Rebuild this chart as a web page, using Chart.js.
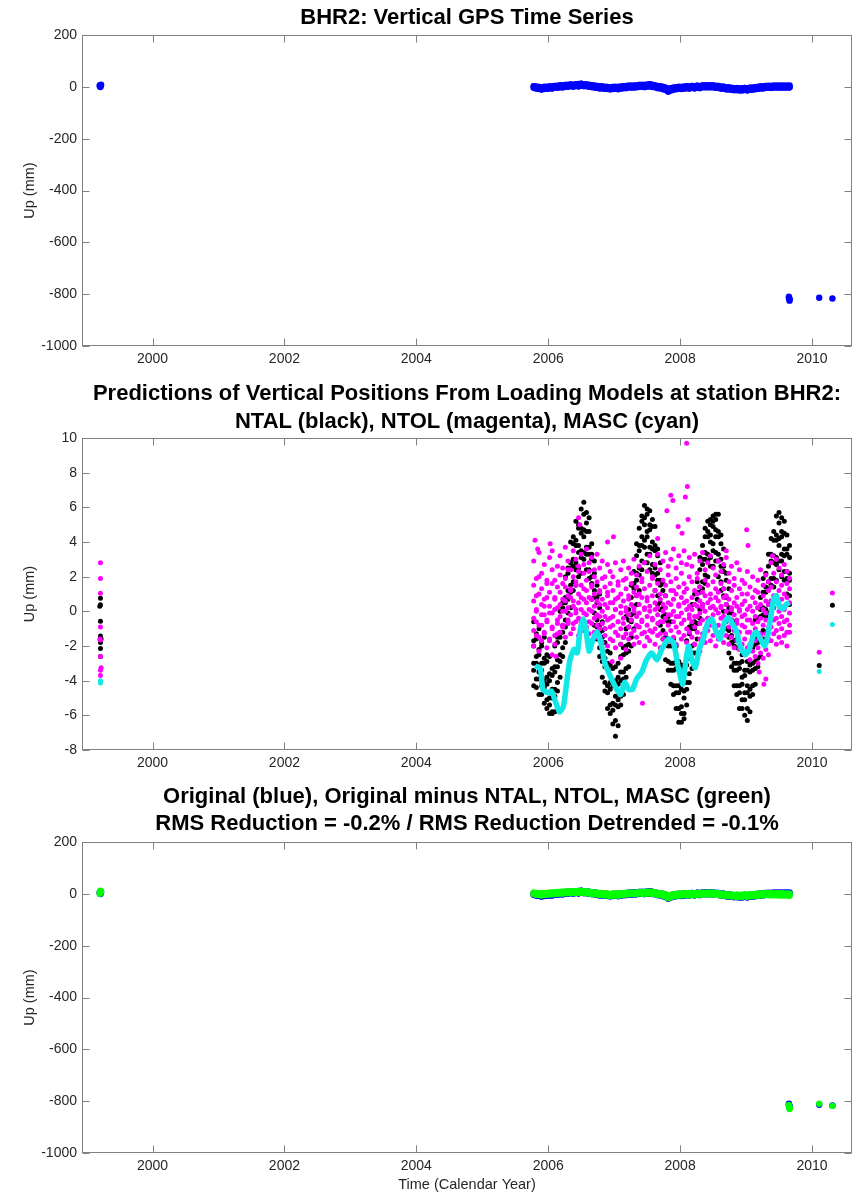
<!DOCTYPE html>
<html>
<head>
<meta charset="utf-8">
<script src="https://cdn.jsdelivr.net/npm/chart.js@4.4.1/dist/chart.umd.min.js"></script>
<style>
body { margin: 0; background: #fff; }
#page { position: relative; width: 860px; height: 1192px; font-family: "Liberation Sans", Arial, sans-serif; }
canvas { position: absolute; left: 0; }
.ttl { position: absolute; left: 67px; width: 800px; text-align: center; font-weight: bold; font-size: 22px; color: #000; white-space: nowrap; }
</style>
</head>
<body>
<div id="page">
  <canvas id="c1" width="860" height="372" style="top:0px"></canvas>
  <canvas id="c2" width="860" height="400" style="top:372px"></canvas>
  <canvas id="c3" width="860" height="420" style="top:772px"></canvas>
  <div class="ttl" style="top:3px;line-height:28px">BHR2: Vertical GPS Time Series</div>
  <div class="ttl" style="top:379px;line-height:28.4px">Predictions of Vertical Positions From Loading Models at station BHR2:<br>NTAL (black), NTOL (magenta), MASC (cyan)</div>
  <div class="ttl" style="top:783px;line-height:26.6px">Original (blue), Original minus NTAL, NTOL, MASC (green)<br>RMS Reduction = -0.2% / RMS Reduction Detrended = -0.1%</div>
</div>
<script>
// x axis (calendar year)
const xTicks = [2000, 2002, 2004, 2006, 2008, 2010];
const yTicksBig = [200, 0, -200, -400, -600, -800, -1000];
const yTicksSmall = [10, 8, 6, 4, 2, 0, -2, -4, -6, -8];

// sample epochs of the main 2005.8 - 2009.7 segment
const years = [2005.78, 2005.82, 2005.86, 2005.90, 2005.94, 2005.98, 2006.02, 2006.06, 2006.10, 2006.14,
  2006.18, 2006.22, 2006.26, 2006.30, 2006.34, 2006.38, 2006.42, 2006.46, 2006.50, 2006.54,
  2006.58, 2006.62, 2006.66, 2006.70, 2006.74, 2006.78, 2006.82, 2006.86, 2006.90, 2006.94,
  2006.98, 2007.02, 2007.06, 2007.10, 2007.14, 2007.18, 2007.22, 2007.26, 2007.30, 2007.34,
  2007.38, 2007.42, 2007.46, 2007.50, 2007.54, 2007.58, 2007.62, 2007.66, 2007.70, 2007.74,
  2007.78, 2007.82, 2007.86, 2007.90, 2007.94, 2007.98, 2008.02, 2008.06, 2008.10, 2008.14,
  2008.18, 2008.22, 2008.26, 2008.30, 2008.34, 2008.38, 2008.42, 2008.46, 2008.50, 2008.54,
  2008.58, 2008.62, 2008.66, 2008.70, 2008.74, 2008.78, 2008.82, 2008.86, 2008.90, 2008.94,
  2008.98, 2009.02, 2009.06, 2009.10, 2009.14, 2009.18, 2009.22, 2009.26, 2009.30, 2009.34,
  2009.38, 2009.42, 2009.46, 2009.50, 2009.54, 2009.58, 2009.62, 2009.66];

// GPS vertical (mm): upper edge, lower edge, ragged edge samples
const gpsA = [2, 1, -1, -2, -1, 0, 1, 2, 3, 4, 5, 6, 7, 8, 9, 8, 10, 11, 12, 10,
  9, 8, 6, 5, 3, 2, 1, 0, -1, -2, -1, 0, -1, 1, 2, 3, 4, 5, 4, 6,
  7, 8, 7, 9, 10, 8, 5, 3, 2, 0, -4, -8, -6, -3, -2, 0, -1, 1, 2, 1,
  3, 2, 4, 3, 5, 6, 5, 6, 5, 4, 3, 1, 0, -2, -3, -4, -6, -5, -7, -6,
  -5, -6, -4, -3, -2, 0, 1, 2, 3, 4, 3, 5, 4, 5, 4, 5, 4, 5];
const gpsB = [-4, -6, -8, -9, -8, -7, -6, -5, -3, -3, -2, -1, 0, 1, 2, 1, 3, 2, 4, 3,
  2, 1, -1, -2, -4, -5, -6, -7, -8, -9, -8, -7, -9, -6, -5, -4, -3, -2, -3, -1,
  0, 1, -1, 2, 1, 0, -2, -4, -6, -8, -12, -18, -14, -10, -9, -7, -8, -6, -5, -6,
  -4, -5, -3, -4, -2, -1, -2, -1, -2, -3, -4, -6, -7, -9, -10, -11, -13, -12, -14, -13,
  -12, -13, -11, -10, -9, -7, -6, -5, -4, -3, -4, -2, -3, -2, -3, -2, -3, -2];
const gpsC = [4, -8, 1, -12, 2, -9, 3, -8, 5, -5, 8, -4, 9, -1, 11, -1, 12, 0, 14, 1,
  11, -1, 8, -4, 5, -7, 3, -9, 1, -11, 1, -9, 1, -8, 4, -6, 6, -4, 6, -3,
  9, -1, 9, 0, 12, -2, 7, -6, 4, -10, -2, -20, -4, -12, 0, -9, 1, -8, 4, -8,
  5, -7, 6, -6, 7, -3, 7, -3, 7, -5, 5, -8, 2, -11, -1, -13, -4, -14, -5, -15,
  -3, -15, -2, -12, 0, -9, 3, -7, 5, -5, 5, -4, 6, -4, 6, -4, 6, -4];
const gpsOutT = [1999.20, 1999.20, 1999.21, 1999.21, 1999.22, 2009.65, 2009.65, 2009.66, 2009.66, 2009.66, 2010.11, 2010.31];
const gpsOutV = [2, 6, -1, 4, 8, -810, -815, -820, -825, -818, -814, -817];

// original minus NTAL, NTOL, MASC (mm)
const resA = [4, 3, 2, 1, 2, 3, 4, 5, 6, 7, 7, 8, 8, 9, 10, 9, 10, 11, 11, 10,
  9, 8, 6, 5, 4, 3, 2, 1, 0, -1, 0, 1, 0, 2, 2, 3, 4, 4, 3, 5,
  6, 7, 6, 8, 8, 7, 5, 3, 2, 0, -3, -7, -5, -2, -1, 1, 0, 1, 2, 1,
  2, 2, 3, 2, 4, 4, 4, 5, 4, 3, 2, 0, -1, -2, -3, -4, -5, -4, -5, -4,
  -3, -4, -3, -2, -1, 0, 1, 1, 2, 2, 1, 2, 1, 2, 1, 1, 0, 1];
const resB = [-1, -3, -4, -5, -4, -3, -2, -1, 0, 0, 1, 2, 2, 3, 4, 3, 4, 4, 5, 4,
  3, 2, 0, -1, -2, -3, -4, -5, -6, -7, -6, -5, -7, -4, -3, -2, -1, 0, -1, 1,
  1, 2, 0, 2, 2, 1, -1, -3, -4, -6, -10, -16, -12, -8, -7, -5, -6, -4, -4, -5,
  -3, -4, -2, -3, -2, -1, -2, -1, -2, -3, -4, -5, -6, -7, -8, -9, -10, -10, -11, -10,
  -9, -10, -9, -8, -7, -6, -5, -5, -4, -4, -5, -4, -5, -5, -6, -5, -6, -6];
const resC = [6, -5, 4, -7, 4, -5, 6, -3, 8, -2, 9, 0, 10, 1, 12, 1, 12, 2, 13, 2,
  11, 0, 8, -3, 6, -5, 4, -7, 2, -9, 2, -7, 2, -6, 4, -4, 6, -2, 5, -1,
  8, 0, 8, 0, 10, -1, 7, -5, 4, -8, -1, -18, -3, -10, 1, -7, 2, -6, 4, -7,
  4, -6, 5, -5, 6, -3, 6, -3, 6, -5, 4, -7, 1, -9, -1, -11, -3, -12, -3, -12,
  -1, -12, -1, -10, 1, -8, 3, -7, 4, -6, 3, -6, 3, -7, 3, -7, 2, -8];
const resOutT = [1999.20, 1999.20, 1999.21, 1999.21, 1999.22, 2009.65, 2009.65, 2009.66, 2009.66, 2009.66, 2010.11, 2010.31];
const resOutV = [0, 5, 10, 12, 8, -815, -820, -826, -830, -822, -810, -818];

// NTAL (black), six samples per epoch (mm)
const bk1 = [-0.6, -1.3, -1.0, -1.8, -1.5, -2.5, -2.6, -3.3, -2.0, -1.5, 0.0, 0.5, 2.0, 2.5, 4.0, 4.3, 5.2, 5.0, 5.9, 6.3,
  5.7, 5.4, 3.9, 2.9, 1.5, 1.0, -0.6, -1.0, -2.3, -2.4, -3.3, -3.2, -3.0, -1.9, -1.5, -0.3, 0.1, 1.5, 2.3, 3.9,
  4.8, 5.5, 6.1, 5.9, 5.8, 5.3, 4.9, 3.6, 2.8, 1.6, 0.9, -0.3, -0.6, -1.6, -2.0, -2.9, -3.1, -3.3, -1.7, -0.9,
  0.4, 1.0, 1.7, 3.1, 3.8, 4.8, 5.2, 5.0, 5.5, 5.3, 5.6, 4.4, 3.6, 2.2, 1.3, -0.1, -0.6, -1.6, -2.0, -2.5,
  -2.4, -2.9, -2.1, -1.6, -0.5, 0.2, 0.8, 1.9, 2.2, 3.3, 4.2, 4.6, 5.5, 5.7, 5.4, 5.2, 4.4, 3.8];
const bk2 = [-1.7, -1.6, -2.2, -2.0, -2.7, -2.9, -3.6, -3.7, -3.2, -1.8, -1.2, 0.2, 0.8, 2.2, 2.8, 3.9, 4.1, 4.8, 4.8, 5.6,
  5.1, 4.6, 3.3, 2.2, 0.8, 0.2, -1.1, -1.8, -3.0, -3.1, -4.0, -4.0, -3.8, -2.6, -2.1, -1.0, -0.5, 0.8, 1.6, 3.2,
  3.8, 5.2, 5.4, 5.6, 5.0, 4.9, 3.8, 3.2, 1.8, 1.2, -0.2, -0.6, -1.7, -2.0, -2.9, -3.4, -4.1, -3.6, -2.7, -1.3,
  -0.7, 0.4, 1.1, 2.4, 3.0, 4.3, 4.6, 5.3, 5.2, 5.6, 4.6, 3.9, 2.6, 1.8, 0.2, -0.5, -1.7, -2.1, -3.0, -2.9,
  -3.4, -3.4, -3.1, -2.1, -1.6, -0.4, 0.1, 1.1, 1.4, 2.6, 3.3, 4.1, 4.4, 5.1, 4.6, 4.5, 3.6, 3.1];
const bk3 = [-2.0, -2.6, -2.5, -3.0, -3.0, -3.8, -4.0, -4.5, -3.5, -2.8, -1.5, -0.8, 0.5, 1.2, 2.5, 3.0, 3.8, 3.8, 4.5, 4.7,
  4.6, 3.7, 3.0, 1.2, 0.5, -0.8, -1.5, -2.7, -3.3, -4.1, -4.3, -4.9, -4.2, -3.5, -2.5, -2.0, -0.9, -0.2, 1.3, 2.2,
  3.5, 4.3, 5.0, 4.6, 4.7, 4.0, 3.5, 2.2, 1.5, 0.2, -0.5, -1.6, -2.0, -3.0, -3.3, -4.3, -4.5, -4.6, -3.1, -2.3,
  -1.0, -0.6, 0.7, 1.4, 2.7, 3.4, 4.3, 4.4, 4.9, 4.7, 4.3, 3.0, 2.3, 0.8, -0.1, -1.4, -2.0, -3.0, -3.3, -3.8,
  -3.7, -4.3, -3.5, -3.0, -1.9, -1.4, -0.3, 0.2, 1.1, 1.7, 2.9, 3.2, 4.1, 4.2, 4.3, 3.6, 3.3, 2.2];
const bk4 = [-3.0, -3.0, -3.5, -3.4, -4.0, -4.2, -5.0, -5.0, -4.5, -3.2, -2.5, -1.2, -0.5, 0.7, 1.5, 2.6, 2.8, 3.4, 3.5, 4.3,
  3.7, 3.3, 2.0, 0.8, -0.5, -1.2, -2.5, -3.2, -4.3, -4.5, -5.3, -5.4, -5.1, -4.0, -3.5, -2.4, -1.9, -0.6, 0.3, 1.8,
  2.5, 3.8, 4.1, 4.3, 3.7, 3.6, 2.5, 1.8, 0.5, -0.3, -1.5, -2.0, -3.0, -3.4, -4.3, -4.7, -5.5, -5.0, -4.1, -2.7,
  -2.0, -1.0, -0.3, 1.1, 1.7, 3.0, 3.3, 4.0, 3.9, 4.3, 3.3, 2.6, 1.3, 0.4, -1.1, -1.8, -3.0, -3.4, -4.3, -4.2,
  -4.7, -4.7, -4.5, -3.4, -2.9, -1.8, -1.3, -0.2, 0.1, 1.3, 1.9, 2.8, 3.1, 3.8, 3.3, 3.2, 2.3, 1.8];
const bk5 = [-3.4, -3.9, -3.9, -4.3, -4.4, -5.1, -5.4, -5.9, -4.9, -4.1, -2.9, -2.1, -0.9, -0.1, 1.1, 1.7, 2.4, 2.5, 3.1, 3.4,
  3.3, 2.4, 1.6, -0.1, -0.9, -2.1, -2.9, -4.1, -4.7, -5.4, -5.7, -6.3, -5.5, -4.9, -3.9, -3.3, -2.3, -1.5, -0.1, 0.9,
  2.1, 2.9, 3.7, 3.3, 3.3, 2.7, 2.1, 0.9, 0.1, -1.1, -1.9, -2.9, -3.4, -4.3, -4.7, -5.6, -5.9, -5.9, -4.5, -3.6,
  -2.4, -1.9, -0.7, 0.1, 1.3, 2.1, 2.9, 3.1, 3.5, 3.4, 2.9, 1.7, 0.9, -0.5, -1.5, -2.7, -3.4, -4.3, -4.7, -5.1,
  -5.1, -5.6, -4.9, -4.3, -3.3, -2.7, -1.7, -1.1, -0.3, 0.4, 1.5, 1.9, 2.7, 2.9, 2.9, 2.3, 1.9, 0.9];
const bk6 = [-4.3, -4.4, -4.8, -4.8, -5.3, -5.6, -5.9, -5.8, -5.8, -4.6, -3.8, -2.6, -1.8, -0.6, 0.2, 1.2, 1.5, 2.0, 2.2, 3.0,
  2.4, 1.9, 0.7, -0.8, -1.6, -2.6, -3.8, -4.6, -5.6, -5.9, -6.5, -7.2, -6.6, -5.4, -4.8, -3.8, -3.2, -2.0, -1.0, 0.4,
  1.2, 2.4, 2.8, 2.8, 2.4, 2.2, 1.2, 0.4, -0.8, -1.6, -2.8, -3.4, -4.2, -4.8, -5.6, -6.4, -6.4, -6.2, -5.4, -4.1,
  -3.3, -2.4, -1.6, -0.4, 0.4, 1.6, 2.0, 2.6, 2.6, 2.9, 2.0, 1.2, 0.0, -1.0, -2.4, -3.2, -4.3, -4.8, -5.6, -5.6,
  -6.0, -6.3, -5.8, -4.8, -4.2, -3.2, -2.6, -1.6, -1.2, -0.1, 0.6, 1.4, 1.8, 2.4, 2.0, 1.8, 1.0, 0.4];
const ntalOutT = [1999.21, 1999.21, 1999.20, 1999.21, 1999.21, 1999.22, 1999.21, 1999.21, 1999.21, 2010.11, 2010.31];
const ntalOutV = [0.75, 0.38, 0.30, -0.57, -1.43, -1.6, -1.8, -2.15, -2.6, -3.12, 0.35];

// NTOL (magenta), six samples per epoch (mm)
const mg1 = [2.9, 1.9, 3.4, 2.2, 2.7, 1.6, 3.1, 2.4, 1.8, 2.6, 3.2, 2.5, 3.7, 2.9, 2.4, 3.5, 3.0, 2.6, 3.3, 2.7,
  3.6, 2.8, 3.1, 2.4, 3.3, 2.5, 2.9, 2.0, 2.7, 2.3, 2.0, 2.8, 1.7, 2.4, 2.9, 1.9, 2.5, 2.2, 3.0, 2.1,
  2.6, 1.9, 2.8, 2.3, 3.2, 2.0, 2.7, 3.3, 2.4, 2.9, 3.4, 2.6, 3.0, 3.6, 2.5, 3.2, 2.8, 3.5, 2.7, 3.1,
  2.6, 3.3, 2.2, 2.9, 3.4, 2.4, 2.8, 3.2, 2.5, 2.1, 2.9, 2.3, 2.7, 3.1, 2.2, 2.6, 1.9, 2.8, 2.4, 1.8,
  1.6, 2.3, 1.4, 2.0, 1.2, 1.8, 2.4, 1.5, 2.1, 1.7, 2.8, 2.2, 3.0, 2.5, 2.1, 2.7, 2.3, 1.9];
const mg2 = [1.5, 0.9, 2.0, 1.3, 0.7, 1.8, 1.1, 1.6, 0.8, 1.4, 2.1, 1.6, 1.9, 2.4, 1.3, 2.0, 1.7, 2.3, 1.5, 2.2,
  1.8, 2.3, 1.5, 2.0, 1.7, 1.2, 1.9, 1.4, 1.1, 1.6, 1.2, 0.7, 1.5, 1.0, 1.8, 1.3, 0.9, 1.6, 1.1, 1.4,
  1.0, 1.7, 1.3, 0.8, 1.5, 1.9, 1.2, 1.6, 1.0, 1.8, 1.5, 2.1, 1.7, 1.2, 1.9, 1.4, 2.2, 1.6, 1.3, 2.0,
  1.7, 1.2, 1.9, 1.4, 1.1, 1.8, 1.5, 1.0, 1.7, 1.3, 1.1, 1.6, 1.3, 0.9, 1.7, 1.2, 1.5, 0.8, 1.3, 1.0,
  0.6, 1.0, 0.3, 0.8, 0.5, 1.1, 0.4, 0.9, 0.6, 1.2, 1.4, 0.9, 1.7, 1.2, 1.5, 1.0, 1.6, 1.3];
const mg3 = [0.6, 0.1, 1.0, 0.4, -0.2, 0.8, 0.3, -0.1, 0.7, 0.2, 1.1, 0.7, 1.4, 0.9, 1.2, 0.6, 1.5, 1.0, 0.8, 1.3,
  1.2, 0.8, 1.4, 1.0, 0.6, 1.1, 0.7, 0.4, 0.9, 0.5, 0.5, 0.1, 0.8, 0.3, 0.6, 0.0, 0.7, 0.4, 0.2, 0.9,
  0.4, 0.8, 0.1, 0.6, 0.3, 0.9, 0.5, 0.2, 0.7, 0.4, 0.9, 0.5, 1.2, 0.7, 1.0, 0.4, 0.8, 1.1, 0.6, 0.3,
  0.8, 0.4, 1.0, 0.6, 0.2, 0.9, 0.5, 0.7, 0.3, 0.8, 0.6, 0.2, 0.8, 0.4, 0.7, 0.1, 0.5, 0.3, 0.0, 0.4,
  -0.2, 0.1, -0.5, 0.0, -0.3, 0.2, -0.4, 0.1, -0.1, 0.4, 0.6, 0.2, 0.9, 0.4, 0.7, 0.3, 0.8, 0.5];
const mg4 = [-0.4, 0.0, -0.8, -0.2, 0.3, -0.6, -0.1, -0.9, 0.1, -0.5, 0.4, 0.0, 0.6, 0.2, 0.8, 0.3, -0.1, 0.5, 0.1, 0.7,
  0.5, 0.1, 0.7, 0.3, -0.2, 0.4, 0.0, -0.3, 0.2, -0.4, -0.3, 0.1, -0.6, -0.1, -0.4, 0.2, -0.2, -0.5, 0.0, -0.3,
  -0.1, -0.5, 0.2, -0.3, 0.0, -0.4, 0.1, -0.2, -0.6, 0.0, 0.2, -0.2, 0.4, 0.0, -0.3, 0.3, -0.1, 0.5, 0.1, -0.2,
  0.1, -0.3, 0.3, -0.1, 0.4, 0.0, -0.4, 0.2, -0.2, 0.1, -0.1, 0.3, -0.3, 0.0, -0.4, 0.2, -0.2, -0.5, 0.1, -0.3,
  -0.9, -0.5, -1.2, -0.7, -1.0, -0.6, -1.3, -0.8, -0.5, -0.9, -0.2, 0.2, -0.4, 0.0, -0.3, 0.1, -0.5, -0.1];
const mg5 = [-1.1, -0.6, -1.5, -0.8, -1.3, -0.5, -1.7, -1.0, -1.4, -0.7, -0.3, -0.8, 0.0, -0.5, -0.2, -0.7, 0.1, -0.4, -0.6, -0.1,
  -0.2, -0.6, 0.0, -0.4, -0.8, -0.3, -0.7, -1.0, -0.5, -0.9, -0.8, -1.2, -0.6, -1.0, -0.7, -1.3, -0.9, -0.5, -1.1, -0.8,
  -0.9, -0.6, -1.2, -0.8, -1.1, -0.5, -1.0, -0.7, -1.3, -0.6, -0.4, -0.8, -0.2, -0.6, -0.9, -0.3, -0.7, -0.5, -1.0, -0.4,
  -0.6, -0.9, -0.3, -0.7, -0.5, -1.0, -0.4, -0.8, -0.6, -0.9, -0.8, -0.4, -1.0, -0.6, -0.9, -0.5, -1.1, -0.7, -1.2, -0.8,
  -1.6, -1.2, -1.9, -1.4, -1.7, -2.1, -1.5, -1.8, -1.3, -1.6, -0.9, -0.5, -1.1, -0.7, -1.0, -0.6, -1.2, -0.8];
const mg6 = [-2.0, -1.4, -2.3, -1.7, -1.2, -2.1, -1.6, -2.5, -1.9, -1.3, -1.2, -0.9, -1.5, -0.7, -1.3, -1.0, -0.6, -1.4, -0.8, -1.1,
  -0.9, -1.3, -0.7, -1.2, -1.5, -1.0, -1.8, -1.4, -2.0, -1.6, -1.7, -2.1, -1.4, -1.9, -1.5, -2.2, -1.6, -1.3, -1.9, -1.5,
  -1.8, -1.3, -2.0, -1.5, -1.7, -1.2, -1.9, -1.4, -2.1, -1.6, -1.3, -1.7, -1.1, -1.5, -1.9, -1.2, -1.6, -1.4, -1.8, -1.2,
  -1.5, -1.9, -1.2, -1.6, -1.3, -1.8, -1.1, -1.7, -1.4, -2.0, -1.6, -1.2, -1.8, -1.4, -1.9, -1.5, -2.1, -1.7, -2.2, -1.9,
  -2.5, -2.1, -2.8, -2.3, -2.6, -3.0, -2.4, -2.7, -2.2, -2.5, -1.7, -1.3, -1.9, -1.5, -1.8, -1.4, -2.0, -1.2];
const ntolOutT = [1999.21, 1999.21, 1999.21, 1999.21, 1999.20, 1999.21, 1999.21, 1999.22, 1999.21, 1999.21, 2010.11, 2010.31,
  2005.80, 2005.84, 2006.03, 2006.06, 2006.12, 2006.46, 2006.48, 2006.90, 2006.97, 2006.99, 2007.10, 2007.43, 2007.66, 2007.80,
  2007.86, 2007.89, 2007.97, 2008.03, 2008.08, 2008.10, 2008.11, 2008.12, 2008.30, 2008.70, 2009.01, 2009.03, 2009.20,
  2009.27, 2009.30, 2009.40];
const ntolOutV = [2.8, 1.9, 1.05, -0.9, -1.6, -1.65, -2.6, -3.25, -3.4, -3.7, -2.36, 1.06,
  4.1, 3.6, 3.9, 3.5, -2.6, 5.4, 5.0, 4.0, -2.9, 4.3, -2.7, -5.3, 4.2, 5.8,
  6.7, 6.4, 4.9, 4.5, 6.6, 9.7, 7.2, 5.3, -2.3, 3.5, 4.7, 3.8, -3.5,
  -4.2, -3.9, 3.2];

// MASC (cyan) model curve (mm)
const mascT = [2005.80, 2005.88, 2005.92, 2006.00, 2006.05, 2006.10, 2006.17, 2006.23, 2006.28, 2006.33,
  2006.39, 2006.44, 2006.48, 2006.53, 2006.57, 2006.62, 2006.68, 2006.74, 2006.80, 2006.86,
  2006.96, 2007.04, 2007.10, 2007.16, 2007.22, 2007.28, 2007.34, 2007.42, 2007.49, 2007.57,
  2007.65, 2007.72, 2007.82, 2007.90, 2007.97, 2008.04, 2008.09, 2008.13, 2008.18, 2008.23,
  2008.29, 2008.35, 2008.42, 2008.48, 2008.55, 2008.61, 2008.67, 2008.73, 2008.80, 2008.86,
  2008.91, 2008.99, 2009.05, 2009.11, 2009.16, 2009.22, 2009.28, 2009.32, 2009.37, 2009.42,
  2009.46, 2009.51, 2009.56, 2009.61, 2009.66];
const mascV = [-3.15, -3.3, -4.5, -4.7, -4.6, -5.1, -5.8, -5.5, -4.1, -2.8,
  -2.2, -2.4, -1.2, -0.45, -1.0, -2.3, -1.6, -1.2, -1.8, -3.0,
  -3.9, -4.5, -4.8, -4.1, -4.5, -4.5, -3.9, -3.5, -2.8, -2.4,
  -2.8, -2.2, -1.6, -1.8, -3.2, -4.2, -2.8, -2.0, -2.8, -3.25,
  -2.2, -1.6, -0.65, -0.45, -1.2, -1.6, -0.65, -0.35, -0.75, -1.2,
  -2.0, -2.5, -2.2, -1.4, -1.2, -1.6, -2.0, -1.6, -0.45, 0.7,
  0.9, 0.25, 0.15, 0.4, 0.5];
const mascOutT = [1999.21, 1999.21, 2010.11, 2010.31];
const mascOutV = [-4.13, -4.0, -3.47, -0.76];

const X_MIN = 1998.93, X_MAX = 2010.607;
const FONT = '"Liberation Sans", Arial, sans-serif';
const TXT = '#262626';

function dots(ts, vs, color, r) {
    return {
        data: ts.map((t, i) => ({x: t, y: vs[i]})),
        backgroundColor: color,
        borderColor: color,
        pointRadius: r,
        pointHoverRadius: r,
        pointBorderWidth: 0,
        showLine: false
    };
}

// MATLAB style box with inward ticks
const boxTicks = {
    id: 'boxTicks',
    beforeDatasetsDraw(chart) {
        const {ctx, chartArea: a, scales} = chart;
        const L = Math.round(a.left) + 0.5, R = Math.round(a.right) - 0.5;
        const T = Math.round(a.top) + 0.5, B = Math.round(a.bottom) - 0.5;
        ctx.save();
        ctx.strokeStyle = '#808080';
        ctx.lineWidth = 1;
        ctx.beginPath();
        scales.x.ticks.forEach(t => {
            const px = Math.round(scales.x.getPixelForValue(t.value)) + 0.5;
            ctx.moveTo(px, B); ctx.lineTo(px, B - 7);
            ctx.moveTo(px, T); ctx.lineTo(px, T + 7);
        });
        scales.y.ticks.forEach(t => {
            const py = Math.round(scales.y.getPixelForValue(t.value)) + 0.5;
            ctx.moveTo(L, py); ctx.lineTo(L + 7, py);
            ctx.moveTo(R, py); ctx.lineTo(R - 7, py);
        });
        ctx.stroke();
        ctx.strokeRect(L, T, R - L, B - T);
        ctx.restore();
    }
};

function makeChart(id, datasets, yMin, yMax, yTicks, padTop, xHeight, xTitle) {
    const config = {
        type: 'scatter',
        data: {datasets: datasets},
        options: {
            responsive: false,
            animation: false,
            layout: {padding: {left: 18, right: 8, top: padTop, bottom: 0}},
            plugins: {legend: {display: false}, tooltip: {enabled: false}},
            scales: {
                x: {
                    type: 'linear', min: X_MIN, max: X_MAX,
                    afterBuildTicks: s => { s.ticks = xTicks.map(v => ({value: v})); },
                    afterFit: s => { s.height = xHeight; },
                    grid: {display: false, drawTicks: false},
                    border: {display: false},
                    ticks: {padding: 5, color: TXT, autoSkip: false, maxRotation: 0,
                        font: {family: FONT, size: 14}, callback: v => String(v)},
                    title: {display: !!xTitle, text: xTitle || '', color: TXT,
                        font: {family: FONT, size: 14.5, lineHeight: 1}, padding: {top: 0, bottom: 0}}
                },
                y: {
                    type: 'linear', min: yMin, max: yMax,
                    afterBuildTicks: s => { s.ticks = yTicks.map(v => ({value: v})); },
                    afterFit: s => { s.width = 64; },
                    grid: {display: false, drawTicks: false},
                    border: {display: false},
                    ticks: {padding: 5, color: TXT, autoSkip: false,
                        font: {family: FONT, size: 14}, callback: v => String(v)},
                    title: {display: true, text: 'Up (mm)', color: TXT,
                        font: {family: FONT, size: 14.5}, padding: {top: 3.5, bottom: 0}}
                }
            }
        },
        plugins: [boxTicks]
    };
    new Chart(document.getElementById(id).getContext('2d'), config);
}

const BLUE = '#0000ff', GREEN = '#00ff00', BLACK = '#000000', MAG = '#ff00ff', CYAN = '#10e8e8';

makeChart('c1', [
    dots(years, gpsA, BLUE, 3.3),
    dots(years, gpsB, BLUE, 3.3),
    dots(years, gpsC, BLUE, 2.8),
    dots(gpsOutT, gpsOutV, BLUE, 3.2)
], -1000, 200, yTicksBig, 35, 26, null);

makeChart('c2', [
    {data: mascT.map((t, i) => ({x: t, y: mascV[i]})), showLine: true, borderColor: CYAN,
        backgroundColor: CYAN, borderWidth: 5.5, pointRadius: 0, pointHoverRadius: 0, tension: 0.2},
    dots(mascOutT, mascOutV, CYAN, 2.5),
    dots(ntolOutT, ntolOutV, MAG, 2.5),
    dots(years, mg1, MAG, 2.5),
    dots(years, mg2, MAG, 2.5),
    dots(years, mg3, MAG, 2.5),
    dots(years, mg4, MAG, 2.5),
    dots(years, mg5, MAG, 2.5),
    dots(years, mg6, MAG, 2.5),
    dots(ntalOutT, ntalOutV, BLACK, 2.5),
    dots(years, bk1, BLACK, 2.5),
    dots(years, bk2, BLACK, 2.5),
    dots(years, bk3, BLACK, 2.5),
    dots(years, bk4, BLACK, 2.5),
    dots(years, bk5, BLACK, 2.5),
    dots(years, bk6, BLACK, 2.5)
], -8, 10, yTicksSmall, 66, 22, null);

makeChart('c3', [
    dots(years, resA, GREEN, 3.3),
    dots(years, resB, GREEN, 3.3),
    dots(years, resC, GREEN, 2.8),
    dots(resOutT, resOutV, GREEN, 3.2),
    dots(years, gpsA, BLUE, 3.3),
    dots(years, gpsB, BLUE, 3.3),
    dots(years, gpsC, BLUE, 2.8),
    dots(gpsOutT, gpsOutV, BLUE, 3.2)
], -1000, 200, yTicksBig, 70, 39, 'Time (Calendar Year)');
</script>
</body>
</html>
